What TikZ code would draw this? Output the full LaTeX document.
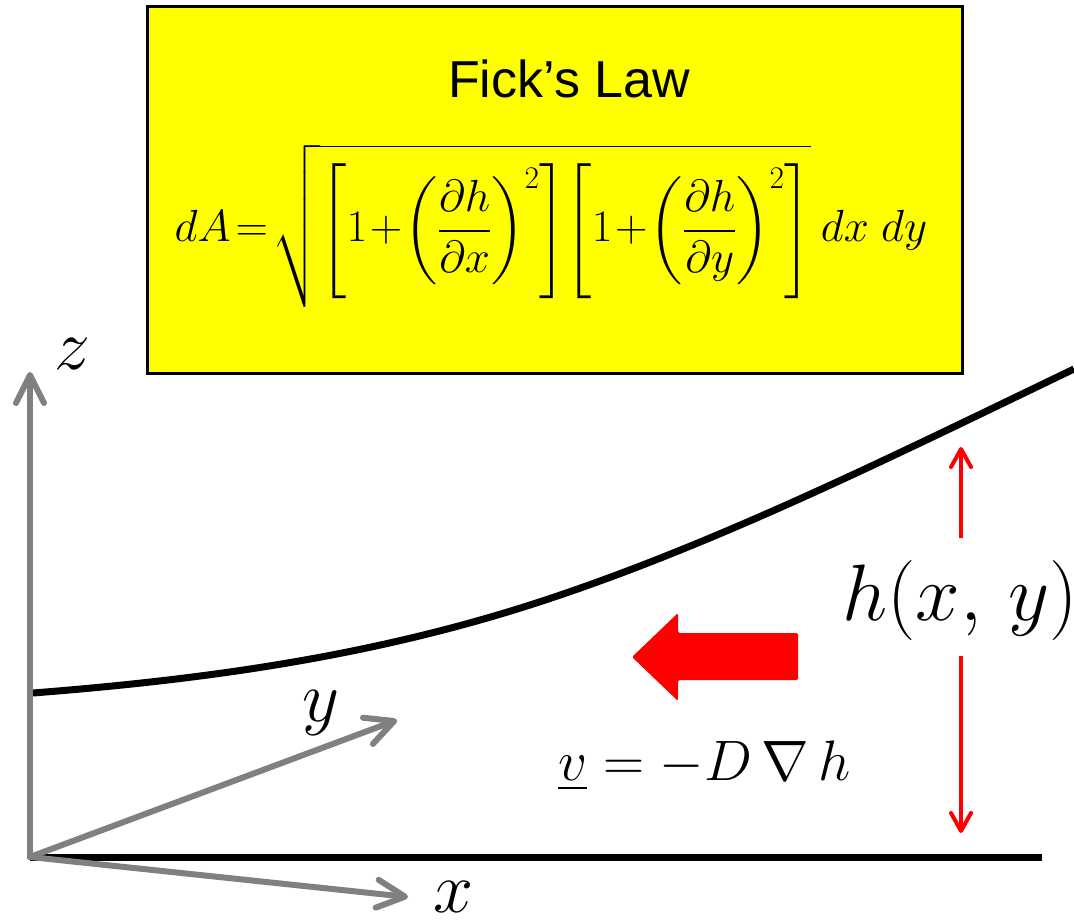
\IfFileExists{fix-cm.sty}{\RequirePackage{fix-cm}}{}
\documentclass[tikz,border=0pt]{standalone}
\usepackage{fontspec}
\setmainfont{Liberation Serif}
\newfontfamily\arialf{Liberation Sans}
\DeclareFontFamily{OMX}{cmex}{}
\DeclareFontShape{OMX}{cmex}{m}{n}{<->cmex10}{}
\usetikzlibrary{arrows.meta}
\definecolor{axgray}{RGB}{128,128,128}
\definecolor{boxyellow}{RGB}{255,255,0}
\definecolor{vred}{RGB}{255,0,0}
\begin{document}
\begin{tikzpicture}[x=1pt,y=-1pt,
  axisarrow/.style={draw=axgray,line width=6pt,line cap=round,
    -{Straight Barb[length=28pt 0 0,width=28pt 0 0,line cap=round,line join=round]}},
  redarrow/.style={draw=vred,line width=4pt,
    -{Straight Barb[length=18pt 0 0,width=20pt 0 0,line cap=round,line join=round]}},
  thickline/.style={draw=black,line width=7pt},
  lawbox/.style={draw=black,line width=3pt,fill=boxyellow},
  axlabel/.style={inner sep=0pt,font=\fontsize{72}{80}\selectfont}]
\useasboundingbox (0,0) rectangle (1074,920);

% yellow box
\draw[lawbox] (147,7) rectangle (962,373);
\node[inner sep=0pt,anchor=base,font=\arialf\fontsize{52}{58}\selectfont] (title) at (569,98) {Fick’s Law};
\node[inner sep=0pt,anchor=base,font=\fontsize{45}{52}\selectfont] (eq) at (551,242)
  {\thickmuskip=2mu\medmuskip=1mu\thinmuskip=1mu$\displaystyle dA=\sqrt{{\left[1+{\left(\frac{\partial h}{\partial x}\right)^{2}}\right]}{\left[1+{\left(\frac{\partial h}{\partial y}\right)^{2}}\right]}}\mskip4mu dx\mskip5mu dy$};

% coordinates
\coordinate (O) at (30,857);
\coordinate (zt) at (30,372);
\coordinate (yt) at (397,720);
\coordinate (xt) at (408,897);
\coordinate (gend) at (1042,857);
\coordinate (s0) at (33,693);
\coordinate (s1) at (530,605);
\coordinate (s2) at (1074,369);

% surface and ground
\draw[thickline] (O) -- (gend);
\draw[thickline] (s0) .. controls (199,680) and (364,658) .. (s1)
                      .. controls (711,547) and (893,456) .. (s2);

% axes
\draw[axisarrow] (O) -- (zt);
\draw[axisarrow] (O) -- (yt);
\draw[axisarrow] (O) -- (xt);
\node[axlabel] (zl) at (72,354) {$z$};
\node[axlabel] (yl) at (321,713) {$y$};
\node[axlabel] (xl) at (454,897) {$x$};

% h(x,y)
\node[inner sep=0pt,anchor=base,font=\fontsize{80}{88}\selectfont] (hl) at (960,620) {$h\bigl(x,\,y\bigr)$};
\coordinate (hu1) at (961,538);
\coordinate (hu2) at (961,447);
\coordinate (hd1) at (961,656);
\coordinate (hd2) at (961,833);
\draw[redarrow] (hu1) -- (hu2);
\draw[redarrow] (hd1) -- (hd2);

% block arrow
\fill[vred,rounded corners=1.5pt] (632,657) -- (678,613) -- (678,633) -- (798,633) -- (798,680) -- (678,680) -- (678,701) -- cycle;

% velocity law
\node[inner sep=0pt,anchor=base west,font=\fontsize{57}{64}\selectfont] (vl) at (558,780) {$\underline{v}=-D\,\nabla\, h$};
\end{tikzpicture}
\end{document}
